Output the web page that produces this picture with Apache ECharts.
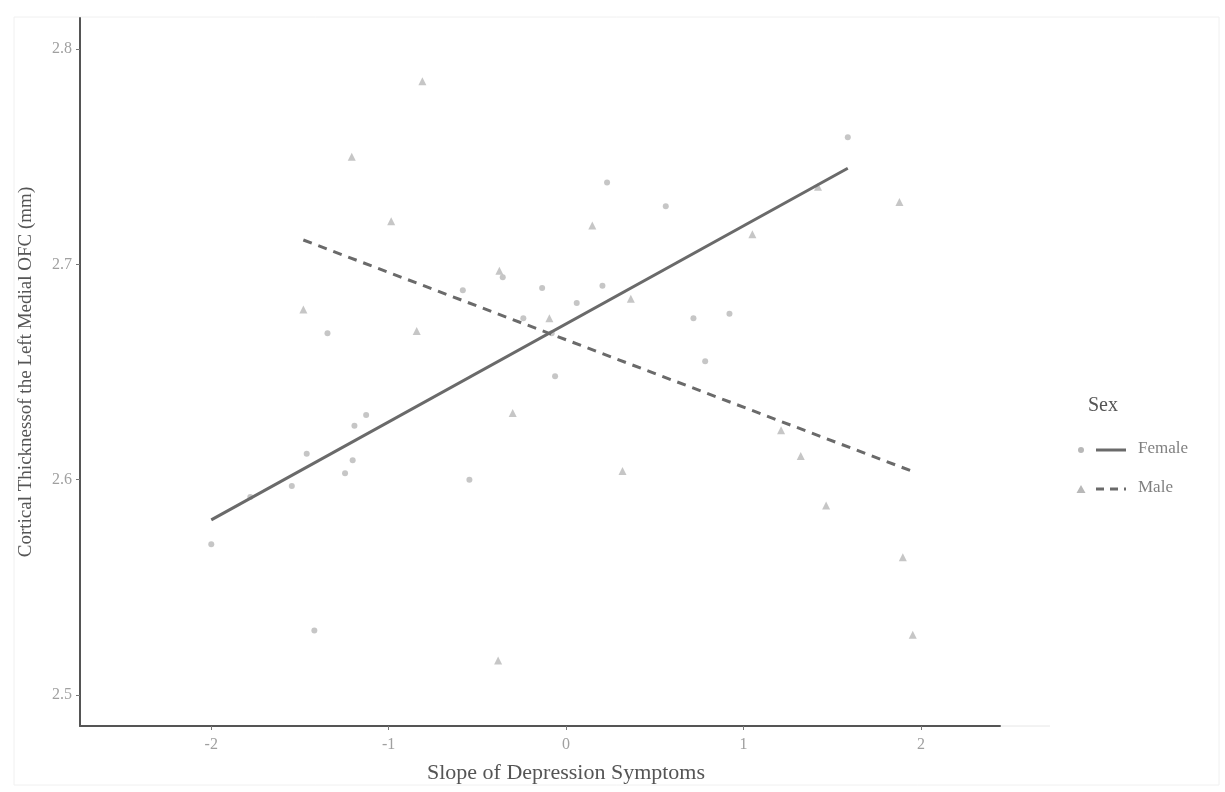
<!DOCTYPE html>
<html>
<head>
<meta charset="utf-8">
<script src="https://cdn.jsdelivr.net/npm/echarts@6/dist/echarts.min.js"></script>
<style>
html,body{margin:0;padding:0;background:#fff;}
#chart{width:1225px;height:792px;}
</style>
</head>
<body>
<div id="chart"></div>
<script>
// Data
var femalePoints = [
  [-2.00, 2.570], [-1.78, 2.592], [-1.546, 2.597], [-1.462, 2.612], [-1.246, 2.603],
  [-1.203, 2.609], [-1.193, 2.625], [-1.127, 2.630], [-1.345, 2.668], [-1.419, 2.530],
  [-0.545, 2.600], [-0.582, 2.688], [-0.357, 2.694], [-0.135, 2.689], [-0.241, 2.675],
  [-0.081, 2.668], [-0.062, 2.648], [0.060, 2.682], [0.205, 2.690], [0.231, 2.738],
  [0.562, 2.727], [0.718, 2.675], [0.921, 2.677], [0.784, 2.655], [1.588, 2.759]
];
var malePoints = [
  [-1.481, 2.679], [-1.208, 2.750], [-0.986, 2.720], [-0.842, 2.669], [-0.810, 2.785],
  [-0.376, 2.697], [-0.383, 2.516], [-0.301, 2.631], [-0.094, 2.675], [0.148, 2.718],
  [0.318, 2.604], [0.365, 2.684], [1.050, 2.714], [1.212, 2.623], [1.323, 2.611],
  [1.420, 2.736], [1.466, 2.588], [1.879, 2.729], [1.898, 2.564], [1.954, 2.528]
];
var femaleFit = [[-2.00, 2.5813], [1.588, 2.7446]];
var maleFit = [[-1.481, 2.7113], [1.958, 2.6037]];
var xTicks = [-2, -1, 0, 1, 2];
var yTicks = [2.5, 2.6, 2.7, 2.8];
var xTitle = 'Slope of Depression Symptoms';
var yTitle = 'Cortical Thicknessof the Left Medial OFC (mm)';
var legendTitle = 'Sex';
var groupNames = ['Female', 'Male'];

var FONT = '"Liberation Serif", "DejaVu Serif", serif';
var chart = echarts.init(document.getElementById('chart'), null, {renderer: 'canvas'});

var option = {
  animation: false,
  backgroundColor: '#ffffff',
  grid: {left: 80, right: 225, top: 18, bottom: 66, containLabel: false},
  xAxis: {
    type: 'value', min: -2.74, max: 2.446,
    splitLine: {show: false},
    axisLine: {show: true, onZero: false, lineStyle: {color: '#555555', width: 2}},
    axisTick: {show: true, customValues: xTicks, length: 4, lineStyle: {color: '#777777', width: 1}},
    axisLabel: {customValues: xTicks, color: '#a0a0a0', fontFamily: FONT, fontSize: 16, margin: 11,
      formatter: function (v) { return String(v); }},
    name: xTitle, nameLocation: 'middle', nameGap: 36,
    nameTextStyle: {color: '#555555', fontFamily: FONT, fontSize: 22, padding: [0, 0, 0, 52]}
  },
  yAxis: {
    type: 'value', min: 2.4856, max: 2.8144,
    splitLine: {show: false},
    axisLine: {show: true, onZero: false, lineStyle: {color: '#555555', width: 2}},
    axisTick: {show: true, customValues: yTicks, length: 4, lineStyle: {color: '#777777', width: 1}},
    axisLabel: {customValues: yTicks, color: '#a0a0a0', fontFamily: FONT, fontSize: 16, margin: 8,
      formatter: function (v) { return v.toFixed(1); }},
    name: yTitle, nameLocation: 'middle', nameGap: 44,
    nameTextStyle: {color: '#555555', fontFamily: FONT, fontSize: 19}
  },
  series: [
    {name: groupNames[0], type: 'scatter', data: femalePoints, symbol: 'circle', symbolSize: 6,
      itemStyle: {color: '#b8b8b8'}, z: 2},
    {name: groupNames[1], type: 'scatter', data: malePoints, symbol: 'triangle', symbolSize: 8,
      itemStyle: {color: '#b8b8b8'}, z: 2},
    {name: groupNames[0] + ' fit', type: 'line', data: femaleFit, showSymbol: false, symbol: 'none',
      lineStyle: {color: '#6a6a6a', width: 3, type: 'solid'}, z: 3},
    {name: groupNames[1] + ' fit', type: 'line', data: maleFit, showSymbol: false, symbol: 'none',
      lineStyle: {color: '#6a6a6a', width: 3, type: [9, 7]}, z: 3}
  ],
  graphic: [
    {type: 'rect', shape: {x: 14, y: 17, width: 1205, height: 768}, silent: true,
      style: {fill: 'none', stroke: '#f0f0f0', lineWidth: 1}, z: -1},
    {type: 'line', shape: {x1: 1001, y1: 726, x2: 1050, y2: 726}, silent: true,
      style: {stroke: '#e6e6e6', lineWidth: 1}},
    {type: 'text', left: 1088, top: 396, style: {text: legendTitle, fill: '#555555', font: '20px ' + FONT}},
    {type: 'circle', shape: {cx: 1081, cy: 450, r: 3}, style: {fill: '#b8b8b8'}},
    {type: 'line', shape: {x1: 1096, y1: 450, x2: 1126, y2: 450}, style: {stroke: '#6a6a6a', lineWidth: 3}},
    {type: 'text', left: 1138, top: 440, style: {text: groupNames[0], fill: '#808080', font: '17px ' + FONT}},
    {type: 'polygon', shape: {points: [[1081, 485], [1085.5, 493], [1076.5, 493]]}, style: {fill: '#b8b8b8'}},
    {type: 'line', shape: {x1: 1096, y1: 489, x2: 1126, y2: 489}, style: {stroke: '#6a6a6a', lineWidth: 3, lineDash: [8, 6]}},
    {type: 'text', left: 1138, top: 479, style: {text: groupNames[1], fill: '#808080', font: '17px ' + FONT}}
  ]
};
chart.setOption(option);
</script>
</body>
</html>
